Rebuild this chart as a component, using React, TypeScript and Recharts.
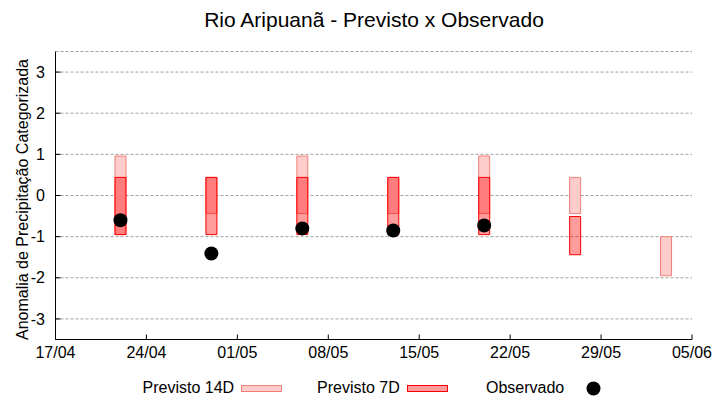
import { ComposedChart, Bar, Scatter, XAxis, YAxis, CartesianGrid } from 'recharts';

// days counted from 17/04
const tickDays = [0, 7, 14, 21, 28, 35, 42, 49];
const tickLabels = ['17/04', '24/04', '01/05', '08/05', '15/05', '22/05', '29/05', '05/06'];
const yTicks = [-3, -2, -1, 0, 1, 2, 3];

const forecastDays = [5, 12, 19, 26, 33, 40, 47];
const prev14Low = [-0.95, -0.44, -0.44, -0.44, -0.44, -0.44, -1.95];
const prev14High = [0.96, 0.44, 0.96, 0.44, 0.96, 0.44, -1.0];
const prev7Low = [-0.95, -0.95, -0.95, -0.95, -0.95, -1.44, null];
const prev7High = [0.44, 0.44, 0.44, 0.44, 0.44, -0.51, null];
const observed = [-0.6, -1.41, -0.8, -0.85, -0.73, null, null];

const rows = forecastDays.map((day, i) => ({
  day,
  p14: [prev14Low[i], prev14High[i]],
  p7: prev7Low[i] == null ? null : [prev7Low[i], prev7High[i]],
}));
const obsRows = forecastDays
  .map((day, i) => ({ day, obs: observed[i] }))
  .filter((r) => r.obs != null);

const FONT = '"Liberation Sans", Arial, sans-serif';
const tickStyle = { fontSize: 16, fill: '#000', fontFamily: FONT };

const Dot = (p: any) => <circle cx={p.cx} cy={p.cy} r={7} fill="#000" />;

export default function App() {
  return (
    <div style={{ position: 'absolute', left: 0, top: 0, width: 720, height: 400, background: '#fff' }}>
      <ComposedChart
        width={720}
        height={400}
        data={rows}
        margin={{ top: 51.5, right: 28, bottom: 30.5, left: 10.5 }}
      >
        <CartesianGrid
          vertical={false}
          stroke="#a0a0a0"
          strokeDasharray="3 2"
          yAxisId="y"
          xAxisId="a"
        />
        <XAxis
          xAxisId="a"
          dataKey="day"
          type="number"
          domain={[0, 49]}
          allowDataOverflow
          ticks={tickDays}
          tickFormatter={(v: number) => tickLabels[tickDays.indexOf(v)]}
          tick={tickStyle}
          tickSize={-5}
          tickMargin={12}
          height={30}
          axisLine={{ stroke: '#000' }}
          tickLine={{ stroke: '#000' }}
        />
        <XAxis xAxisId="b" dataKey="day" type="number" domain={[0, 49]} allowDataOverflow hide />
        <XAxis
          xAxisId="top"
          orientation="top"
          type="number"
          domain={[0, 49]}
          allowDataOverflow
          ticks={tickDays}
          tick={false}
          tickSize={-5}
          height={0}
          axisLine={{ stroke: '#000' }}
          tickLine={{ stroke: '#000' }}
        />
        <YAxis
          yAxisId="y"
          type="number"
          domain={[-3.5, 3.5]}
          allowDataOverflow
          ticks={yTicks}
          tick={tickStyle}
          tickSize={-5}
          tickMargin={15.5}
          width={45}
          axisLine={{ stroke: '#000' }}
          tickLine={{ stroke: '#000' }}
        />
        <YAxis
          yAxisId="right"
          orientation="right"
          type="number"
          domain={[-3.5, 3.5]}
          allowDataOverflow
          ticks={yTicks}
          tick={false}
          tickSize={-5}
          width={0}
          axisLine={{ stroke: '#000' }}
          tickLine={{ stroke: '#000' }}
        />
        <Bar
          xAxisId="a"
          yAxisId="y"
          dataKey="p14"
          barSize={11}
          fill="#ffcccc"
          stroke="#f08078"
          strokeWidth={1}
          isAnimationActive={false}
        />
        <Bar
          xAxisId="b"
          yAxisId="y"
          dataKey="p7"
          barSize={11}
          fill="#ff0000"
          fillOpacity={0.39}
          stroke="#ff0000"
          strokeWidth={1}
          isAnimationActive={false}
        />
        <Scatter
          xAxisId="a"
          yAxisId="y"
          data={obsRows}
          dataKey="obs"
          shape={Dot}
          isAnimationActive={false}
        />
      </ComposedChart>
      <svg
        width={720}
        height={400}
        style={{ position: 'absolute', left: 0, top: 0, pointerEvents: 'none' }}
        fontFamily={FONT}
      >
        <text x={374} y={27} textAnchor="middle" fontSize={21} fill="#000">
          Rio Aripuanã - Previsto x Observado
        </text>
        <text
          x={28}
          y={199.5}
          textAnchor="middle"
          fontSize={16}
          fill="#000"
          transform="rotate(-90 28 199.5)"
        >
          Anomalia de Precipitação Categorizada
        </text>
        <text x={142.5} y={392.5} fontSize={16} fill="#000">Previsto 14D</text>
        <rect x={241.5} y={385.5} width={40} height={6} fill="#ffcccc" stroke="#f08078" />
        <text x={317} y={392.5} fontSize={16} fill="#000">Previsto 7D</text>
        <rect x={407.5} y={385.5} width={40} height={6} fill="#ff9c9c" stroke="#ff0000" />
        <text x={486} y={392.5} fontSize={16} fill="#000">Observado</text>
        <circle cx={593.5} cy={388.5} r={7} fill="#000" />
      </svg>
    </div>
  );
}
